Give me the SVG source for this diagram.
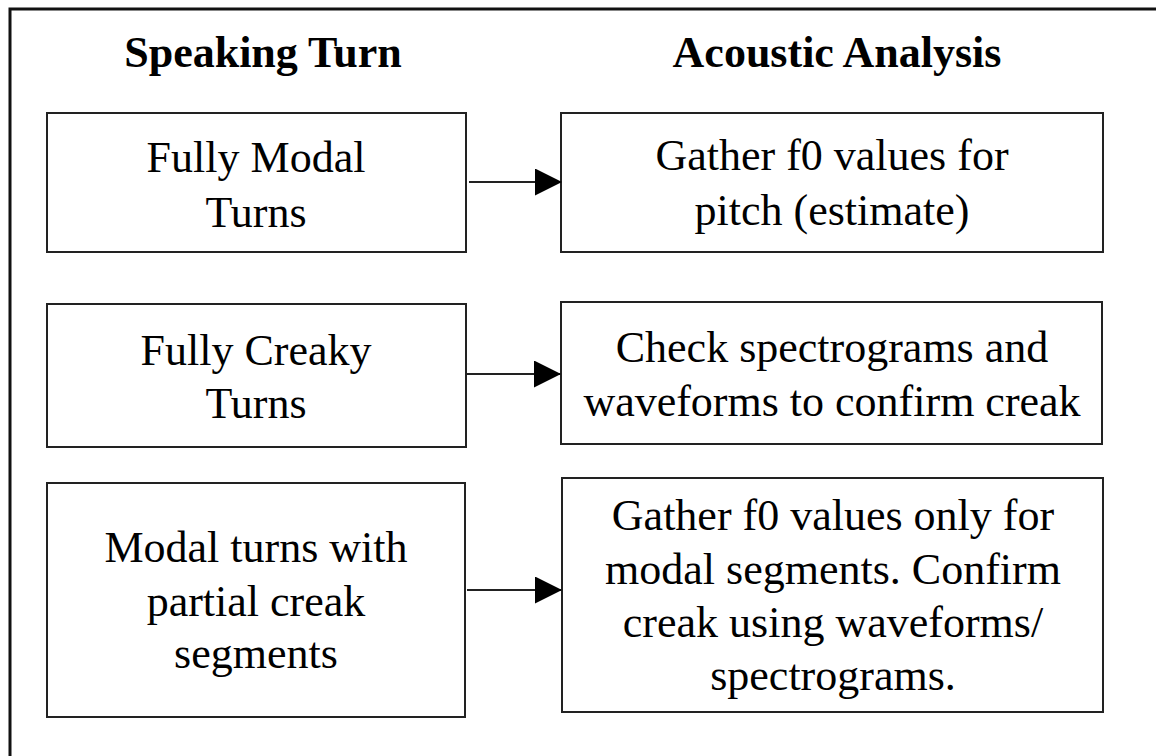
<svg xmlns="http://www.w3.org/2000/svg" width="1156" height="756" viewBox="0 0 1156 756">
<style>
.box{fill:#fff;stroke:#222;stroke-width:2}
.t{font-family:"Liberation Serif","Times New Roman",serif;font-size:44px;fill:#000;text-anchor:middle}
.h{font-family:"Liberation Serif","Times New Roman",serif;font-size:44px;font-weight:bold;fill:#000;text-anchor:middle}
.conn{stroke:#222;stroke-width:2;fill:none}
</style>
<defs>
<marker id="arrow" markerUnits="userSpaceOnUse" markerWidth="28" markerHeight="28" refX="27" refY="13.5" orient="auto">
<path d="M0,0 L27,13.5 L0,27 Z" fill="#000"/>
</marker>
</defs>
<rect x="0" y="0" width="1156" height="756" fill="#fff"/>
<rect x="10" y="9" width="1300" height="900" fill="none" stroke="#111" stroke-width="3"/>
<g id="headings">
<text class="h" x="263" y="67">Speaking Turn</text>
<text class="h" x="837" y="67">Acoustic Analysis</text>
</g>
<g id="node-fully-modal">
<rect class="box" x="47" y="113" width="419" height="139"/>
<text class="t" x="256" y="172">Fully Modal</text>
<text class="t" x="256" y="227">Turns</text>
</g>
<g id="node-gather-pitch">
<rect class="box" x="561" y="113" width="542" height="139"/>
<text class="t" x="832" y="170">Gather f0 values for</text>
<text class="t" x="832" y="225">pitch (estimate)</text>
</g>
<g id="node-fully-creaky">
<rect class="box" x="47" y="304" width="419" height="143"/>
<text class="t" x="256" y="365">Fully Creaky</text>
<text class="t" x="256" y="418">Turns</text>
</g>
<g id="node-check-spectrograms">
<rect class="box" x="561" y="302" width="541" height="142"/>
<text class="t" x="832" y="362">Check spectrograms and</text>
<text class="t" x="832" y="416">waveforms to confirm creak</text>
</g>
<g id="node-modal-partial">
<rect class="box" x="47" y="483" width="418" height="234"/>
<text class="t" x="256" y="562">Modal turns with</text>
<text class="t" x="256" y="616">partial creak</text>
<text class="t" x="256" y="668">segments</text>
</g>
<g id="node-gather-modal">
<rect class="box" x="562" y="478" width="541" height="234"/>
<text class="t" x="833" y="530">Gather f0 values only for</text>
<text class="t" x="833" y="584">modal segments. Confirm</text>
<text class="t" x="833" y="637">creak using waveforms/</text>
<text class="t" x="833" y="690">spectrograms.</text>
</g>
<g id="connectors">
<line class="conn" x1="469" y1="182" x2="562" y2="182" marker-end="url(#arrow)"/>
<line class="conn" x1="467" y1="374" x2="561" y2="374" marker-end="url(#arrow)"/>
<line class="conn" x1="467" y1="590" x2="562" y2="590" marker-end="url(#arrow)"/>
</g>
</svg>
